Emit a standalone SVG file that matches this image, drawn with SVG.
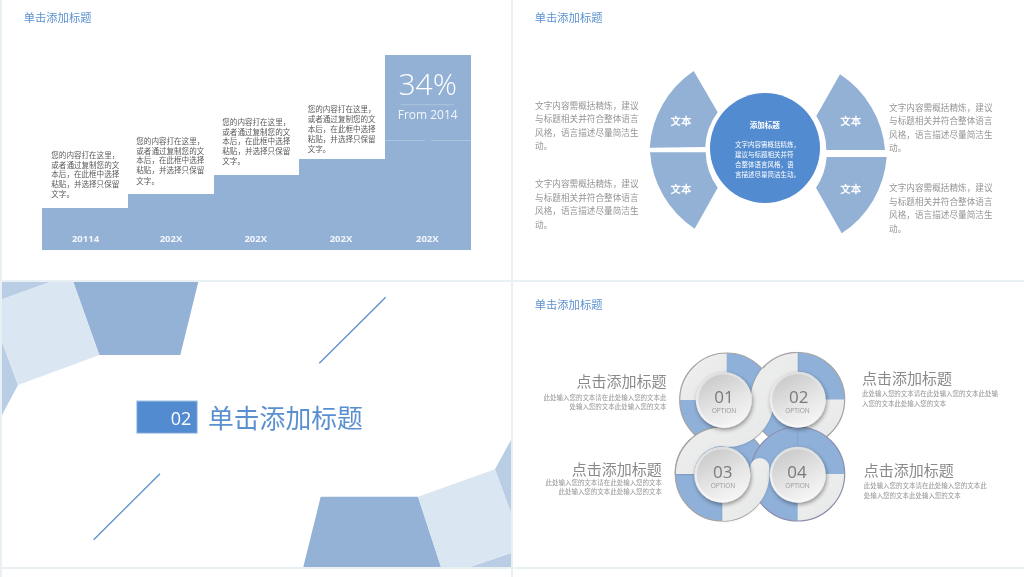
<svg xmlns="http://www.w3.org/2000/svg" width="1024" height="577" viewBox="0 0 1024 577">
<defs>
<linearGradient id="knobRim" x1="0" y1="0" x2="0" y2="1"><stop offset="0" stop-color="#dedede"/><stop offset="1" stop-color="#f8f8f8"/></linearGradient>
<linearGradient id="knobFace" x1="0.2" y1="0" x2="0.7" y2="1"><stop offset="0" stop-color="#c8c8c8"/><stop offset="0.6" stop-color="#e6e6e6"/><stop offset="1" stop-color="#f5f5f5"/></linearGradient>
<linearGradient id="band" x1="0" y1="0" x2="1" y2="1"><stop offset="0" stop-color="#f2f2f2"/><stop offset="1" stop-color="#e4e5e5"/></linearGradient>
<filter id="knobShadow" x="-30%" y="-30%" width="160%" height="160%"><feDropShadow dx="1" dy="2" stdDeviation="2" flood-color="#000" flood-opacity="0.4"/></filter>
<filter id="bandShadow" x="-10%" y="-10%" width="120%" height="120%"><feDropShadow dx="0" dy="0.5" stdDeviation="0.8" flood-color="#000" flood-opacity="0.18"/></filter>
<filter id="soft" x="0" y="0" width="100%" height="100%"><feGaussianBlur stdDeviation="0.35"/></filter>
</defs>
<style>
text{font-family:"Noto Sans CJK SC","Noto Sans",sans-serif}
.head{font-size:11.3px;fill:#5a90cf}
.step{font-size:7.55px;fill:#5a5a5a}
.yr{font-family:"Open Sans","Noto Sans CJK SC",sans-serif;font-size:9.5px;font-weight:700;fill:#f2f6fb;text-anchor:middle}
.sec{fill:#93b1d5}
.para{font-size:8.65px;fill:#959595}
.wen{font-size:10.4px;font-weight:700;fill:#fff;text-anchor:middle}
.cen{font-size:6.5px;fill:#fff}
.tt{font-size:15px;fill:#8a8a8a}
.sm{font-size:6.47px;fill:#959595}
.num{font-family:"Open Sans","Noto Sans CJK SC",sans-serif;font-size:17px;fill:#7a7a7a;text-anchor:middle}
.opt{font-family:"Open Sans","Noto Sans CJK SC",sans-serif;font-size:6.6px;fill:#9a9a9a;text-anchor:middle}
.dk{fill:#94b2d6}.lt{fill:#dae6f2}.md{fill:#b9cde4}
.dl{stroke:#5a8fcf;stroke-width:1.3;fill:none}
.blue{fill:#8fb0d8}
.rim{fill:none;stroke:#a3a3a3;stroke-width:1.2}
.g{fill:url(#band)}
</style>
<rect width="1024" height="577" fill="#e9f0f3"/>
<g filter="url(#soft)">
<rect x="2" y="0" width="509" height="280" fill="#fff"/>
<rect x="513" y="0" width="511" height="280" fill="#fff"/>
<rect x="2" y="282" width="509" height="285" fill="#fff"/>
<rect x="513" y="282" width="511" height="285" fill="#fff"/>
<rect x="2" y="569" width="509" height="8" fill="#fff"/>
<rect x="513" y="569" width="511" height="8" fill="#fff"/>

<g id="panel-stairs">
<text class="head" x="23.7" y="21.5">单击添加标题</text>
<path id="stairs" d="M42 208H128V194H214V175H299V159H385V55H471V250H42Z" fill="#93b1d5"/>
<path d="M385 140.5H425M431 140.5H471" stroke="#b3c8e2" stroke-width="0.8" fill="none"/>
<path d="M401 104.7H454" stroke="#b3c8e2" stroke-width="0.8" fill="none"/>
<text x="427.7" y="95" text-anchor="middle" style="font-family:'Open Sans',sans-serif;font-size:30px;font-weight:300" fill="#fff">34%</text>
<text x="427.7" y="118.5" text-anchor="middle" style="font-family:'Open Sans',sans-serif;font-size:12px" fill="#f2f6fb">From 2014</text>
<g id="step1" class="step"><text x="51.3" y="158">您的内容打在这里，</text><text x="51.3" y="167.7">或者通过复制您的文</text><text x="51.3" y="177">本后，在此框中选择</text><text x="51.3" y="187">粘贴，并选择只保留</text><text x="51.3" y="197">文字。</text></g>
<g id="step2" class="step"><text x="136.3" y="144.4">您的内容打在这里，</text><text x="136.3" y="153.7">或者通过复制您的文</text><text x="136.3" y="163.4">本后，在此框中选择</text><text x="136.3" y="173.4">粘贴，并选择只保留</text><text x="136.3" y="183.7">文字。</text></g>
<g id="step3" class="step"><text x="222.3" y="125">您的内容打在这里，</text><text x="222.3" y="134.7">或者通过复制您的文</text><text x="222.3" y="144.4">本后，在此框中选择</text><text x="222.3" y="154">粘贴，并选择只保留</text><text x="222.3" y="164.4">文字。</text></g>
<g id="step4" class="step"><text x="307.7" y="112.4">您的内容打在这里，</text><text x="307.7" y="122">或者通过复制您的文</text><text x="307.7" y="132">本后，在此框中选择</text><text x="307.7" y="141.7">粘贴，并选择只保留</text><text x="307.7" y="152">文字。</text></g>
<text class="yr" x="85.5" y="242">20114</text><text class="yr" x="171" y="242">202X</text><text class="yr" x="255.7" y="242">202X</text><text class="yr" x="341" y="242">202X</text><text class="yr" x="427.3" y="242">202X</text>
</g>

<g id="panel-sectors">
<text class="head" x="534.7" y="21.5">单击添加标题</text>
<g id="sector-tl"><path class="sec" d="M693.7 71L717.7 112.3A62 62 0 0 0 705.3 147L649.7 147.7A100 100 0 0 1 693.7 71Z"/><text class="wen" x="681" y="125">文本</text></g>
<g id="sector-tr"><path class="sec" d="M840 74.3L816.3 116A62 62 0 0 1 826.3 150L885 150A100 100 0 0 0 840 74.3Z"/><text class="wen" x="850.7" y="125">文本</text></g>
<g id="sector-bl"><path class="sec" d="M650 152.3L705.7 152.3A62 62 0 0 0 717.7 187.7L694.7 228.7A100 100 0 0 1 650 152.3Z"/><text class="wen" x="681" y="193">文本</text></g>
<g id="sector-br"><path class="sec" d="M826.7 157L886.7 157A100 100 0 0 1 841.7 233.3L816 187.7A62 62 0 0 0 826.7 157Z"/><text class="wen" x="850.7" y="193">文本</text></g>
<g id="center">
<circle cx="765" cy="148" r="55" fill="#528bd0"/>
<text x="764.7" y="128.3" text-anchor="middle" style="font-size:7.5px;font-weight:700" fill="#fff">添加标题</text>
<text class="cen" x="735" y="146.5">文字内容需概括精炼，</text><text class="cen" x="735" y="156.5">建议与标题相关并符</text><text class="cen" x="735" y="166.5">合整体语言风格，语</text><text class="cen" x="735" y="176.5">言描述尽量简洁生动。</text>
</g>
<g class="para"><text x="535" y="109">文字内容需概括精炼，建议</text><text x="535" y="122.3">与标题相关并符合整体语言</text><text x="535" y="135.7">风格，语言描述尽量简洁生</text><text x="535" y="149">动。</text></g>
<g class="para"><text x="535" y="187.3">文字内容需概括精炼，建议</text><text x="535" y="201">与标题相关并符合整体语言</text><text x="535" y="214.3">风格，语言描述尽量简洁生</text><text x="535" y="228">动。</text></g>
<g class="para"><text x="889" y="111">文字内容需概括精炼，建议</text><text x="889" y="124.3">与标题相关并符合整体语言</text><text x="889" y="138">风格，语言描述尽量简洁生</text><text x="889" y="151.3">动。</text></g>
<g class="para"><text x="889" y="191.3">文字内容需概括精炼，建议</text><text x="889" y="204.7">与标题相关并符合整体语言</text><text x="889" y="218.3">风格，语言描述尽量简洁生</text><text x="889" y="231.7">动。</text></g>
</g>

<g id="panel-section">
<path class="md" d="M2 282H50L2 299.3Z"/><path class="md" d="M2 341.7L18 385L2 415Z"/>
<path class="dk" d="M73.3 282H198.3L180.3 355H99.3Z"/>
<path class="lt" d="M2 299.3L50 282H73.3L99.3 355L18 385L2 341.7Z"/>
<path class="md" d="M511 440L495 469.3L511 513Z"/><path class="md" d="M470 567L511 553V567Z"/>
<path class="dk" d="M320.7 496.7H418L441 567H303.3Z"/>
<path class="lt" d="M418 496.7L495 469.3L511 513V553L470 567H441Z"/>
<line class="dl" x1="319.3" y1="363.3" x2="385.7" y2="297.3"/>
<line class="dl" x1="93.7" y1="539.7" x2="160" y2="473.7"/>
<g id="section-no"><rect x="136.7" y="400.9" width="60.6" height="32.4" fill="#528bd0" stroke="#bcd2ec" stroke-width="1"/><text x="181" y="424.5" text-anchor="middle" style="font-family:'Open Sans',sans-serif;font-size:18px" fill="#fff">02</text></g>
<text x="208" y="428" style="font-size:25.8px" fill="#5a90cf">单击添加标题</text>
</g>

<g id="panel-rings">
<text class="head" x="534.7" y="308.5">单击添加标题</text>
<g id="ring1"><circle class="blue" cx="726.7" cy="400" r="47"/><path class="g" d="M726.7 400H679.7A47 47 0 0 1 726.7 353Z"/><circle class="rim" cx="726.7" cy="400" r="47"/></g>
<g id="ring2"><circle class="blue" cx="797.7" cy="399.5" r="47"/><path class="g" d="M797.7 399.5H844.7A47 47 0 0 1 797.7 446.5Z"/><circle class="rim" cx="797.7" cy="399.5" r="47"/></g>
<g id="ring3"><circle class="blue" cx="722.3" cy="474" r="47"/><circle class="rim" cx="722.3" cy="474" r="47"/></g>
<g id="ring4"><circle class="blue" cx="797.7" cy="474" r="47"/><path class="g" d="M797.7 474H844.7A47 47 0 0 1 797.7 521Z"/><path d="M797.7 427V474" stroke="#7f9cc4" stroke-width="0.6"/><circle class="rim" cx="797.7" cy="474" r="47" style="stroke:#8d8fae"/></g>
<path id="band-s" class="g" filter="url(#bandShadow)" d="M797.7 352.5A47 47 0 0 0 750.7 399.5A24 24 0 0 1 726.7 424C725 424 724 427 722.3 427A47 47 0 0 0 675.3 474H694.3A28 28 0 0 1 722.3 446C724 446 725 447 726.7 447A47 47 0 0 0 773.7 400A24 24 0 0 1 797.7 375.5Z"/>
<path id="band-c" class="g" filter="url(#bandShadow)" d="M722.3 521A47 47 0 0 0 769.3 474V467.5A9.5 9.5 0 0 0 750.3 467.5V474A28 28 0 0 1 722.3 502Z"/>
<path class="rim" d="M797.7 352.5A47 47 0 0 0 763 368M722.3 427A47 47 0 0 0 675.3 474"/>
<g id="knob1" filter="url(#knobShadow)"><circle cx="723.8" cy="400" r="28" fill="url(#knobRim)"/><circle cx="723.8" cy="400" r="25.5" fill="url(#knobFace)"/></g>
<text class="num" x="724" y="403">01</text><text class="opt" x="724" y="413">OPTION</text>
<g id="knob2" filter="url(#knobShadow)"><circle cx="797.7" cy="399.7" r="28" fill="url(#knobRim)"/><circle cx="797.7" cy="399.7" r="25.5" fill="url(#knobFace)"/></g>
<text class="num" x="798.7" y="403">02</text><text class="opt" x="797.5" y="413">OPTION</text>
<g id="knob3" filter="url(#knobShadow)"><circle cx="722.3" cy="474.7" r="28" fill="url(#knobRim)"/><circle cx="722.3" cy="474.7" r="25.5" fill="url(#knobFace)"/></g>
<text class="num" x="722.7" y="478">03</text><text class="opt" x="723" y="488">OPTION</text>
<g id="knob4" filter="url(#knobShadow)"><circle cx="797.7" cy="474.7" r="28" fill="url(#knobRim)"/><circle cx="797.7" cy="474.7" r="25.5" fill="url(#knobFace)"/></g>
<text class="num" x="797" y="478">04</text><text class="opt" x="797.5" y="488">OPTION</text>
<text class="tt" x="666.5" y="386.5" text-anchor="end">点击添加标题</text>
<g class="sm" text-anchor="end"><text x="666.5" y="399.7">此处输入您的文本请在此处输入您的文本此</text><text x="666.5" y="408.7">处输入您的文本此处输入您的文本</text></g>
<text class="tt" x="862" y="384">点击添加标题</text>
<g class="sm"><text x="862" y="396.2">此处输入您的文本请在此处输入您的文本此处输</text><text x="862" y="405.5">入您的文本此处输入您的文本</text></g>
<text class="tt" x="661.7" y="475" text-anchor="end">点击添加标题</text>
<g class="sm" text-anchor="end"><text x="662" y="485.2">此处输入您的文本请在此处输入您的文本</text><text x="662" y="494.2">此处输入您的文本此处输入您的文本</text></g>
<text class="tt" x="863.7" y="476">点击添加标题</text>
<g class="sm"><text x="863.7" y="488.2">此处输入您的文本请在此处输入您的文本此</text><text x="863.7" y="497.5">处输入您的文本此处输入您的文本</text></g>
</g>
</g>
</svg>
